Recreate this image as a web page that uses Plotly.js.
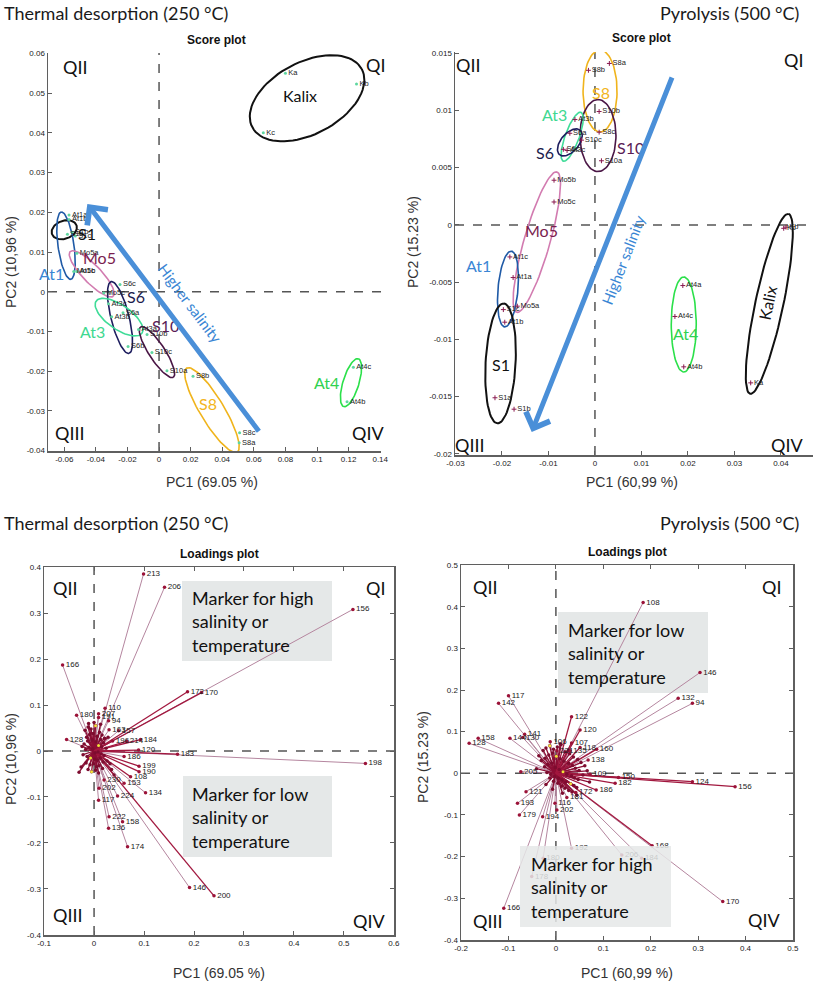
<!DOCTYPE html>
<html><head><meta charset="utf-8">
<script src="https://cdn.plot.ly/plotly-3.0.1.min.js"></script>
<style>body{margin:0;background:#fff}#chart{width:813px;height:984px}</style>
</head><body><div id="chart"></div>
<script>
// ================= DATA =================
// Score plot – thermal desorption (250 °C)
const tdSampleNames = ['Ka','Kb','Kc','At1a','At1b','At1c','S1a','S1b','S1c','Mo5a','Mo5b','Mo5c','S6a','S6b','S6c','At3a','At3b','At3c','S10a','S10b','S10c','S8a','S8b','S8c','At4b','At4c'];
const tdSamplePC1 = [0.080,0.125,0.066,-0.057,-0.057,-0.052,-0.058,-0.055,-0.053,-0.052,-0.054,-0.035,-0.0228,-0.0196,-0.0247,-0.0130,-0.0300,-0.0320,0.005,-0.0076,-0.0045,0.0507,0.0215,0.051,0.119,0.123];
const tdSamplePC2 = [0.055,0.0523,0.040,0.0193,0.0182,0.0051,0.0145,0.0150,0.0140,0.0097,0.0051,-0.0003,-0.0053,-0.0138,0.0018,-0.0095,-0.0063,-0.0030,-0.0199,-0.0108,-0.0153,-0.038,-0.0213,-0.0355,-0.0277,-0.019];
const tdGroupNames = ['Kalix','S1','At1','Mo5','S6','At3','S10','S8','At4'];
const tdGroupPC1 = [0.0937,-0.060,-0.0589,-0.0426,-0.0247,-0.0253,-0.0013,0.0335,0.1215];
const tdGroupPC2 = [0.0487,0.0156,0.0116,0.0045,-0.0065,-0.0064,-0.0152,-0.0298,-0.0229];
const tdArrowHead = [-0.0454, 0.0221];
const tdArrowTail = [0.0639, -0.0355];

// Score plot – pyrolysis (500 °C)
const pySampleNames = ['S8a','S8b','S8c','S10a','S10b','S10c','At3b','At3c','S6a','S6c','Mo5a','Mo5b','Mo5c','At1a','At1b','At1c','S1a','S1b','S1c','At4a','At4b','At4c','Ka','Kb','Kc'];
const pySamplePC1 = [0.0031,-0.0014,0.0009,0.0014,0.0009,-0.0029,-0.0043,-0.0060,-0.0054,-0.0068,-0.0167,-0.0088,-0.0088,-0.0176,-0.0194,-0.0183,-0.0215,-0.0174,-0.0197,0.0189,0.0191,0.0172,0.0335,0.0411,0.0406];
const pySamplePC2 = [0.0141,0.0135,0.0081,0.0056,0.0099,0.0074,0.0092,0.0065,0.0080,0.0066,-0.0071,0.0039,0.0020,-0.0046,-0.0085,-0.0028,-0.0151,-0.0161,-0.0074,-0.0053,-0.0124,-0.0080,-0.0138,-0.0002,-0.0003];
const pyGroupNames = ['S8','S10','At3','S6','Mo5','At1','S1','At4','Kalix'];
const pyGroupPC1 = [0.0011,0.00065,-0.0049,-0.0054,-0.0125,-0.0187,-0.0203,0.0191,0.0375];
const pyGroupPC2 = [0.0117,0.0078,0.0077,0.0072,-0.0015,-0.0056,-0.0121,-0.0087,-0.0069];
const pyArrowHead = [-0.0136, -0.0181];
const pyArrowTail = [0.0167, 0.0130];

// Loadings – thermal desorption
const tdLoadLabels = ['213','206','156','166','172','170','110','180','207','191','94','163','157','128','196','214','184','183','198','120','186','199','190','108','153','134','224','222','158','136','174','117','146','200','230','202'];
const tdLoadPC1 = [0.099,0.141,0.518,-0.063,0.187,0.215,0.022,-0.035,0.009,0.009,0.029,0.030,0.049,-0.055,0.037,0.065,0.093,0.167,0.543,0.089,0.060,0.090,0.090,0.073,0.060,0.103,0.047,0.030,0.057,0.029,0.067,0.009,0.191,0.240,0.020,0.010];
const tdLoadPC2 = [0.385,0.356,0.308,0.187,0.129,0.127,0.093,0.078,0.081,0.073,0.066,0.046,0.044,0.025,0.022,0.021,0.025,-0.007,-0.027,0.002,-0.012,-0.033,-0.045,-0.056,-0.070,-0.091,-0.098,-0.143,-0.154,-0.168,-0.208,-0.107,-0.297,-0.315,-0.063,-0.081];
const tdDarkLoad = ['170','172','183','200','214','184','120','199','190','108','196'];
const tdClusterPC1 = [-0.018,-0.012,-0.006,0.003,0.011,0.016,0.021,-0.015,-0.009,-0.002,0.006,0.013,0.019,-0.020,-0.013,-0.004,0.004,0.009,0.015,0.024,-0.017,-0.010,-0.003,0.002,0.008,0.014,0.020,-0.022,-0.014,-0.007,0.001,0.007,0.012,0.018,-0.016,-0.008,-0.001,0.005,0.010,0.017,-0.012,-0.005,0.003,0.009,-0.026,-0.030,-0.024,0.026,0.032,0.028,-0.011,0.000,0.013,0.035,0.040];
const tdClusterPC2 = [0.045,0.052,0.048,0.055,0.041,0.035,0.028,0.030,0.036,0.038,0.032,0.025,0.018,0.015,0.022,0.024,0.020,0.012,0.009,0.006,0.003,0.008,0.005,-0.004,-0.002,-0.006,-0.010,-0.008,-0.012,-0.015,-0.018,-0.020,-0.016,-0.024,-0.026,-0.030,-0.028,-0.034,-0.032,-0.038,-0.040,-0.045,-0.042,-0.048,-0.035,-0.046,0.010,-0.022,-0.028,0.030,0.060,0.062,0.058,-0.040,-0.052];

// Loadings – pyrolysis
const pyLoadLabels = ['108','146','132','94','117','142','122','120','158','128','144','141','130','106','107','118','160','138','205','109','150','124','156','182','186','172','181','121','193','179','194','116','202','192','206','184','168','170','178','166','180','221','135'];
const pyLoadPC1 = [0.184,0.304,0.258,0.288,-0.100,-0.121,0.033,0.051,-0.164,-0.183,-0.097,-0.066,-0.070,-0.012,0.033,0.051,0.086,0.068,-0.074,0.072,0.132,0.288,0.378,0.125,0.085,0.042,0.023,-0.063,-0.081,-0.077,-0.028,-0.002,0.002,0.033,0.139,0.181,0.203,0.352,-0.051,-0.110,-0.027,0.002,0.030];
const pyLoadPC2 = [0.410,0.242,0.180,0.168,0.186,0.168,0.136,0.104,0.084,0.072,0.084,0.094,0.086,0.076,0.073,0.062,0.058,0.032,0.004,-0.002,-0.010,-0.020,-0.032,-0.024,-0.040,-0.046,-0.058,-0.044,-0.072,-0.100,-0.104,-0.072,-0.088,-0.180,-0.196,-0.204,-0.174,-0.308,-0.248,-0.324,-0.204,0.054,0.054];
const pyDarkLoad = ['168','124','156','122','120','107','118','160','150','109','182','186'];
const pyClusterPC1 = [-0.036,-0.027,-0.021,-0.013,-0.005,0.003,0.011,0.019,0.029,0.037,0.046,0.053,0.061,-0.031,-0.023,-0.015,-0.007,0.001,0.009,0.017,0.027,0.035,0.041,0.049,-0.024,-0.017,-0.009,-0.001,0.007,0.015,0.023,0.033,0.039,0.047,0.057,-0.019,-0.011,-0.003,0.005,0.013,0.021,0.031,0.038,0.044,-0.013,-0.005,0.004,0.012,0.019,0.027,0.034,-0.041,0.066,0.071,-0.007,0.014,0.026,-0.021,0.044,0.009];
const pyClusterPC2 = [0.042,0.055,0.061,0.066,0.058,0.063,0.069,0.052,0.047,0.039,0.033,0.026,0.018,0.031,0.036,0.044,0.049,0.041,0.035,0.029,0.024,0.019,0.012,0.007,0.016,0.021,0.025,0.014,0.009,0.004,-0.002,-0.006,-0.011,-0.015,-0.004,0.002,-0.003,-0.008,-0.012,-0.016,-0.021,-0.025,-0.029,-0.034,-0.011,-0.019,-0.024,-0.031,-0.036,-0.041,-0.045,0.011,0.006,-0.021,-0.038,-0.048,0.055,-0.027,-0.052,0.071];

// Tick labels
const tlXTicks = [-0.06,-0.04,-0.02,0,0.02,0.04,0.06,0.08,0.1,0.12,0.14];
const tlXText = ['-0.06','-0.04','-0.02','0','0.02','0.04','0.06','0.08','0.1','0.12','0.14'];
const tlYTicks = [-0.04,-0.03,-0.02,-0.01,0,0.01,0.02,0.03,0.04,0.05,0.06];
const tlYText = ['-0.04','-0.03','-0.02','-0.01','0','0.01','0.02','0.03','0.04','0.05','0.06'];
const trXTicks = [-0.03,-0.02,-0.01,0,0.01,0.02,0.03,0.04];
const trXText = ['-0.03','-0.02','-0.01','0','0.01','0.02','0.03','0.04'];
const trYTicks = [-0.02,-0.015,-0.01,-0.005,0,0.005,0.01,0.015];
const trYText = ['-0.02','-0.015','-0.01','-0.005','0','0.005','0.01','0.015'];
const blXTicks = [-0.1,0,0.1,0.2,0.3,0.4,0.5,0.6];
const blXText = ['-0.1','0','0.1','0.2','0.3','0.4','0.5','0.6'];
const blYTicks = [-0.4,-0.3,-0.2,-0.1,0,0.1,0.2,0.3,0.4];
const blYText = ['-0.4','-0.3','-0.2','-0.1','0','0.1','0.2','0.3','0.4'];
const brXTicks = [-0.2,-0.1,0,0.1,0.2,0.3,0.4,0.5];
const brXText = ['-0.2','-0.1','0','0.1','0.2','0.3','0.4','0.5'];
const brYTicks = [-0.4,-0.3,-0.2,-0.1,0,0.1,0.2,0.3,0.4,0.5];
const brYText = ['-0.4','-0.3','-0.2','-0.1','0','0.1','0.2','0.3','0.4','0.5'];

// ================= LAYOUT / STYLE =================
const W = 813, H = 984;
const fx = p => p / W;
const fy = p => 1 - p / H;
const frames = {
  tl: {x:[48,381], y:[53,451], xr:[-0.0703,0.1405], yr:[-0.0401,0.0601]},
  tr: {x:[455,813], y:[52,455], xr:[-0.0301,0.0469], yr:[-0.0201,0.0151]},
  bl: {x:[44,394], y:[567,935], xr:[-0.1002,0.6002], yr:[-0.4002,0.4002]},
  br: {x:[461,793], y:[565,940], xr:[-0.2002,0.5002], yr:[-0.4002,0.5002]}
};
for (const k in frames) {
  const f = frames[k];
  f.kx = (f.x[1]-f.x[0])/(f.xr[1]-f.xr[0]);
  f.ky = (f.y[1]-f.y[0])/(f.yr[1]-f.yr[0]);
}
const tickFont = {family:'Liberation Sans, Arial, sans-serif', size:8, color:'#222'};
function axPair(f, xa, ya, xt, xtt, yt, ytt, boxed) {
  const common = {showgrid:false, zeroline:false, showline:true, linecolor:'#5f5f5f', linewidth:1.5,
    ticks:'inside', ticklen:4, tickwidth:1, tickcolor:'#5f5f5f', tickfont:tickFont, fixedrange:true,
    mirror: boxed ? 'ticks' : false, tickmode:'array'};
  return [
    Object.assign({}, common, {domain:[fx(f.x[0]), fx(f.x[1])], range:f.xr, anchor:ya, tickvals:xt, ticktext:xtt}),
    Object.assign({}, common, {domain:[fy(f.y[1]), fy(f.y[0])], range:f.yr, anchor:xa, tickvals:yt, ticktext:ytt})
  ];
}
const [xa1, ya1] = axPair(frames.tl, 'x', 'y', tlXTicks, tlXText, tlYTicks, tlYText, false);
const [xa2, ya2] = axPair(frames.tr, 'x2', 'y2', trXTicks, trXText, trYTicks, trYText, false);
const [xa3, ya3] = axPair(frames.bl, 'x3', 'y3', blXTicks, blXText, blYTicks, blYText, true);
const [xa4, ya4] = axPair(frames.br, 'x4', 'y4', brXTicks, brXText, brYTicks, brYText, true);

const groupLine = {Kalix:'#111111', S1:'#111111', At1:'#1f5aa6', Mo5:'#d27bb0', S6:'#1d1d5e', At3:'#3fdc98', S10:'#4a1645', S8:'#f0b41c', At4:'#2be04a'};
const groupText = {Kalix:'#111111', S1:'#111111', At1:'#3a86d4', Mo5:'#7a1d4f', S6:'#1b1b4d', At3:'#3fd890', S10:'#5a1c56', S8:'#f2b522', At4:'#2fd24f'};
// ellipse shape: [semi-major px, semi-minor px, screen angle deg]
const tdEllGeom = {Kalix:[62,36,28], S1:[13,9,20], At1:[34,8,98], Mo5:[31,9,-46], S6:[37,9,-76], At3:[28,12,-35], S10:[30,8,-57], S8:[49,12,-59], At4:[25,8,73]};
const pyEllGeom = {S8:[41,17,90], S10:[36,18,90], At3:[26,7,70], S6:[16,9,50], Mo5:[73,13,74], At1:[38,10,85], S1:[60,15,87], At4:[47.5,12.5,90], Kalix:[92,14,78]};
const tdLabelPx = {Kalix:[300,96], S1:[87,233], Mo5:[99,257], At1:[52,273], S6:[136,296], At3:[92,331], S10:[165,325], S8:[208,403], At4:[326,382]};
const pyLabelPx = {S8:[601,93], At3:[554,115], S6:[545,152], S10:[630,147], Mo5:[541,230], At1:[478,266], S1:[501,365], At4:[685,334], Kalix:[768,303]};

const traces = [];
function ellipseTrace(f, cx, cy, g, color, xa, ya, w) {
  const [a, b, ang] = g; const th = ang*Math.PI/180;
  const xs = [], ys = [];
  for (let i = 0; i <= 80; i++) {
    const t = i/80*2*Math.PI;
    const ex = a*Math.cos(t), ey = b*Math.sin(t);
    const rx = ex*Math.cos(th) - ey*Math.sin(th);
    const ry = ex*Math.sin(th) + ey*Math.cos(th);
    xs.push(cx + rx/f.kx); ys.push(cy + ry/f.ky);
  }
  return {x:xs, y:ys, xaxis:xa, yaxis:ya, mode:'lines', line:{color, width:w}, hoverinfo:'skip'};
}
tdGroupNames.forEach((g,i) => traces.push(ellipseTrace(frames.tl, tdGroupPC1[i], tdGroupPC2[i], tdEllGeom[g], groupLine[g], 'x', 'y', (g==='Kalix'||g==='S1')?2:1.6)));
pyGroupNames.forEach((g,i) => traces.push(ellipseTrace(frames.tr, pyGroupPC1[i], pyGroupPC2[i], pyEllGeom[g], groupLine[g], 'x2', 'y2', (g==='Kalix'||g==='S1')?2:1.6)));

const ptFont = {family:'Liberation Sans, Arial, sans-serif', size:7.5, color:'#222'};
traces.push({x:tdSamplePC1, y:tdSamplePC2, text:tdSampleNames, xaxis:'x', yaxis:'y', mode:'markers+text', textposition:'middle right',
  textfont:ptFont, marker:{size:3, color:'#5fd6a0'}, hoverinfo:'text'});
traces.push({x:pySamplePC1, y:pySamplePC2, text:pySampleNames, xaxis:'x2', yaxis:'y2', mode:'markers+text', textposition:'middle right',
  textfont:ptFont, marker:{size:3.5, color:'#8a1a50', symbol:'cross-thin-open', line:{width:1, color:'#6a1a50'}}, hoverinfo:'text'});

function vecLines(xs, ys) {
  const X = [], Y = [];
  for (let i = 0; i < Math.min(xs.length, ys.length); i++) { X.push(0, xs[i], null); Y.push(0, ys[i], null); }
  return [X, Y];
}
function loadTraces(labels, pc1, pc2, dark, cx, cy, xa, ya) {
  const lx = [], ly = [], dx = [], dy = [];
  labels.forEach((l,i) => { if (dark.includes(l)) { dx.push(pc1[i]); dy.push(pc2[i]); } else { lx.push(pc1[i]); ly.push(pc2[i]); } });
  const [LX, LY] = vecLines(lx, ly), [DX, DY] = vecLines(dx, dy), [CX, CY] = vecLines(cx, cy);
  traces.push({x:LX, y:LY, xaxis:xa, yaxis:ya, mode:'lines', line:{color:'#b5869f', width:1}, hoverinfo:'skip'});
  traces.push({x:CX, y:CY, xaxis:xa, yaxis:ya, mode:'lines', line:{color:'#8c0f35', width:1.3}, hoverinfo:'skip'});
  traces.push({x:DX, y:DY, xaxis:xa, yaxis:ya, mode:'lines', line:{color:'#a2183f', width:1.3}, hoverinfo:'skip'});
  traces.push({x:cx, y:cy, xaxis:xa, yaxis:ya, mode:'markers', marker:{size:3.5, color:'#7d0c2f'}, hoverinfo:'skip'});
  traces.push({x:[cx[3],cx[17],cx[29],cx[41]], y:[cy[3],cy[17],cy[29],cy[41]], xaxis:xa, yaxis:ya, mode:'markers', marker:{size:3, color:'#f2e23a'}, hoverinfo:'skip'});
  traces.push({x:pc1, y:pc2, text:labels, xaxis:xa, yaxis:ya, mode:'markers+text', textposition:'middle right',
    textfont:{family:'Liberation Sans, Arial, sans-serif', size:8, color:'#222'}, marker:{size:3.5, color:'#9b1238'}, hoverinfo:'text'});
}
loadTraces(tdLoadLabels, tdLoadPC1, tdLoadPC2, tdDarkLoad, tdClusterPC1, tdClusterPC2, 'x3', 'y3');
loadTraces(pyLoadLabels, pyLoadPC1, pyLoadPC2, pyDarkLoad, pyClusterPC1, pyClusterPC2, 'x4', 'y4');

// ---------- shapes ----------
const dash = {color:'#555', width:1.5, dash:'dash'};
const shapes = [];
[['x','y'],['x2','y2'],['x3','y3'],['x4','y4']].forEach(([xa,ya]) => {
  shapes.push({type:'line', xref:xa, yref:ya+' domain', x0:0, x1:0, y0:0, y1:1, line:dash, layer:'below'});
  shapes.push({type:'line', xref:xa+' domain', yref:ya, x0:0, x1:1, y0:0, y1:0, line:dash, layer:'below'});
});
function box(x0, y0, x1, y1, layer, opacity) {
  shapes.push({type:'rect', xref:'paper', yref:'paper', x0:fx(x0), x1:fx(x1), y0:fy(y1), y1:fy(y0),
    fillcolor:'#e5e8e8', opacity:opacity, line:{width:0}, layer:layer});
}
box(182, 581, 332, 661, 'below', 1);
box(183, 776, 332, 857, 'below', 1);
box(558, 612, 708, 693, 'below', 1);
box(520, 846, 671, 927, 'above', 0.85);

// ---------- annotations ----------
const ann = [];
function txt(text, px, py, size, opts) {
  ann.push(Object.assign({text, x:fx(px), y:fy(py), xref:'paper', yref:'paper', showarrow:false,
    font:{family:'Lato, sans-serif', size, color:'#1a1a1a'}, xanchor:'center', yanchor:'middle'}, opts||{}));
}
// headings
txt('Thermal desorption (250 °C)', 2, 13, 18, {xanchor:'left'});
txt('Pyrolysis (500 °C)', 801, 13, 18, {xanchor:'right'});
txt('Thermal desorption (250 °C)', 2, 523, 18, {xanchor:'left'});
txt('Pyrolysis (500 °C)', 801, 523, 18, {xanchor:'right'});
// plot titles
const ttlFont = {family:'Liberation Sans, Arial, sans-serif', size:12, color:'#111'};
txt('<b>Score plot</b>', 216, 40, 12, {font:ttlFont});
txt('<b>Score plot</b>', 641, 38, 12, {font:ttlFont});
txt('<b>Loadings plot</b>', 219, 554, 12, {font:ttlFont});
txt('<b>Loadings plot</b>', 627, 552, 12, {font:ttlFont});
// axis titles
const axFont = {family:'Liberation Sans, Arial, sans-serif', size:14, color:'#333'};
txt('PC1 (69.05 %)', 212, 482, 14, {font:axFont});
txt('PC1 (60,99 %)', 632, 482, 14, {font:axFont});
txt('PC1 (69.05 %)', 219, 973, 14, {font:axFont});
txt('PC1 (60,99 %)', 627, 973, 14, {font:axFont});
txt('PC2 (10,96 %)', 11, 262, 14, {font:axFont, textangle:-90});
txt('PC2 (15.23 %)', 413, 242, 14, {font:axFont, textangle:-90});
txt('PC2 (10,96 %)', 11, 759, 14, {font:axFont, textangle:-90});
txt('PC2 (15.23 %)', 423, 757, 14, {font:axFont, textangle:-90});
// quadrant labels
[[75,67,'QII'],[375,65,'QI'],[70,433,'QIII'],[368,433,'QIV'],
 [468,65,'QII'],[793,60,'QI'],[470,445,'QIII'],[787,445,'QIV'],
 [65,588,'QII'],[375,588,'QI'],[68,915,'QIII'],[369,921,'QIV'],
 [485,587,'QII'],[771,587,'QI'],[488,921,'QIII'],[764,920,'QIV']].forEach(([x,y,t]) => txt(t, x, y, 18, {font:{family:'Lato, sans-serif', size:18, color:'#111'}}));
// group labels
for (const g in tdLabelPx) txt(g, tdLabelPx[g][0], tdLabelPx[g][1], 16, {font:{family:'Lato, sans-serif', size:16, color:groupText[g]}});
for (const g in pyLabelPx) txt(g, pyLabelPx[g][0], pyLabelPx[g][1], 16, {font:{family:'Lato, sans-serif', size:16, color:groupText[g]}, textangle: g==='Kalix' ? -78 : 0});
txt('Higher salinity', 190, 303, 15, {font:{family:'Lato, sans-serif', size:15, color:'#3a86d4'}, textangle:53});
txt('Higher salinity', 623, 260, 15, {font:{family:'Lato, sans-serif', size:15, color:'#3a86d4'}, textangle:-69});
// box texts
const boxFont = {family:'Lato, sans-serif', size:18, color:'#111'};
txt('Marker for high<br>salinity or<br>temperature', 190, 621, 18, {font:boxFont, xanchor:'left', align:'left'});
txt('Marker for low<br>salinity or<br>temperature', 190, 817, 18, {font:boxFont, xanchor:'left', align:'left'});
txt('Marker for low<br>salinity or<br>temperature', 566, 653, 18, {font:boxFont, xanchor:'left', align:'left'});
txt('Marker for high<br>salinity or<br>temperature', 529, 887, 18, {font:boxFont, xanchor:'left', align:'left'});
// arrows
ann.push({x:tdArrowHead[0], y:tdArrowHead[1], ax:tdArrowTail[0], ay:tdArrowTail[1], xref:'x', yref:'y', axref:'x', ayref:'y',
  text:'', showarrow:true, arrowhead:4, arrowsize:1, arrowwidth:5, arrowcolor:'#4a8fd8'});
ann.push({x:pyArrowHead[0], y:pyArrowHead[1], ax:pyArrowTail[0], ay:pyArrowTail[1], xref:'x2', yref:'y2', axref:'x2', ayref:'y2',
  text:'', showarrow:true, arrowhead:4, arrowsize:1, arrowwidth:5, arrowcolor:'#4a8fd8'});

const layout = {
  width:W, height:H, margin:{l:0,r:0,t:0,b:0}, showlegend:false,
  paper_bgcolor:'#ffffff', plot_bgcolor:'rgba(0,0,0,0)',
  xaxis:xa1, yaxis:ya1, xaxis2:xa2, yaxis2:ya2, xaxis3:xa3, yaxis3:ya3, xaxis4:xa4, yaxis4:ya4,
  shapes, annotations:ann
};
Plotly.newPlot('chart', traces, layout, {displayModeBar:false, staticPlot:true});
</script></body></html>
